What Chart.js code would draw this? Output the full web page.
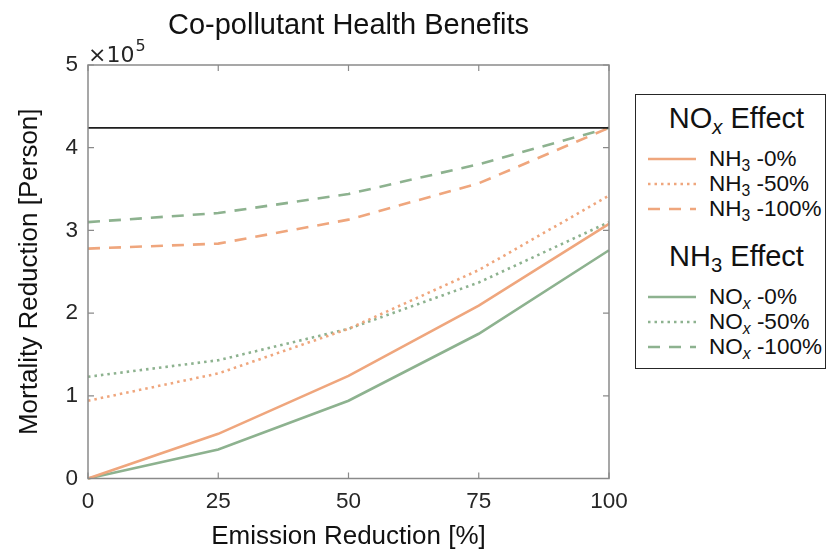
<!DOCTYPE html>
<html>
<head>
<meta charset="utf-8">
<script src="https://cdn.jsdelivr.net/npm/chart.js@4.4.1/dist/chart.umd.min.js"></script>
<style>
  body { margin: 0; background: #fff; }
  #wrap { position: relative; width: 826px; height: 551px; }
  #legend {
    position: absolute; left: 635px; top: 94px; width: 189px; height: 273px;
    border: 1px solid #262626; background: #fff;
    font-family: 'Liberation Sans', Arial, sans-serif; color: #111;
  }
  .hdr { position: absolute; left: 0; width: 100%; text-align: center; font-size: 29px; line-height: 32px; padding-left: 12px; box-sizing: border-box; }
  .row { position: absolute; left: 0; width: 100%; height: 24px; }
  .row svg { position: absolute; left: 12px; top: 0; }
  .row span { position: absolute; left: 73px; font-size: 22.5px; line-height: 24px; white-space: nowrap; }
  sub { font-size: 0.7em; vertical-align: -0.3em; line-height: 0; }
</style>
</head>
<body>
<div id="wrap">
  <canvas id="chart" width="826" height="551"></canvas>
  <div id="legend"></div>
</div>
<script>
// emission reduction steps [%]
const emission = [0, 25, 50, 75, 100];

// mortality reduction [person]
const nh3Zero    = [0, 54000, 124000, 209000, 308000];
const nh3Half    = [94000, 127000, 181000, 252000, 342000];
const nh3Full    = [278000, 284000, 313000, 357000, 424000];
const noxZero    = [0, 35000, 94000, 175000, 276000];
const noxHalf    = [123000, 143000, 181000, 237000, 310000];
const noxFull    = [310000, 321000, 344000, 380000, 424000];
const reference  = [424000, 424000];
const refX       = [0, 100];

const yTicks = [0, 100000, 200000, 300000, 400000, 500000];

const ORANGE = '#efa67d';
const GREEN = '#8db28f';
const FONT = "'Liberation Sans', Arial, sans-serif";

function pts(xs, ys) {
    return xs.map((x, i) => ({ x: x, y: ys[i] }));
}

const dashStyles = { solid: [], dotted: [2.5, 4], dashed: [12, 9] };

function series(label, ys, color, style) {
    return {
        label: label,
        data: pts(emission, ys),
        borderColor: color,
        borderWidth: 2.6,
        borderDash: dashStyles[style],
        pointRadius: 0,
        tension: 0,
        fill: false,
        clip: false
    };
}

// inward ticks + box frame, like the original axes
const frame = {
    id: 'frame',
    afterDatasetsDraw(chart) {
        const { ctx, chartArea: a, scales } = chart;
        ctx.save();
        ctx.strokeStyle = '#8a8a8a';
        ctx.lineWidth = 1.5;
        ctx.strokeRect(a.left, a.top, a.right - a.left, a.bottom - a.top);
        ctx.lineWidth = 1.2;
        ctx.beginPath();
        emission.forEach(v => {
            const px = scales.x.getPixelForValue(v);
            ctx.moveTo(px, a.bottom); ctx.lineTo(px, a.bottom - 6);
            ctx.moveTo(px, a.top); ctx.lineTo(px, a.top + 6);
        });
        yTicks.forEach(v => {
            const py = scales.y.getPixelForValue(v);
            ctx.moveTo(a.left, py); ctx.lineTo(a.left + 6, py);
            ctx.moveTo(a.right, py); ctx.lineTo(a.right - 6, py);
        });
        ctx.stroke();

        // exponent label
        ctx.fillStyle = '#262626';
        ctx.textBaseline = 'alphabetic';
        ctx.font = "22px 'DejaVu Sans', sans-serif";
        ctx.fillText('\u00d710', a.left, a.top - 3);
        const w = ctx.measureText('\u00d710').width;
        ctx.font = "16px 'DejaVu Sans', sans-serif";
        ctx.fillText('5', a.left + w + 1, a.top - 14);
        ctx.restore();
    }
};

new Chart(document.getElementById('chart').getContext('2d'), {
    type: 'line',
    data: {
        datasets: [
            {
                label: 'reference',
                data: pts(refX, reference),
                borderColor: '#1e1e1e',
                borderWidth: 1.8,
                pointRadius: 0,
                clip: false
            },
            series('NH3 -0%', nh3Zero, ORANGE, 'solid'),
            series('NH3 -50%', nh3Half, ORANGE, 'dotted'),
            series('NH3 -100%', nh3Full, ORANGE, 'dashed'),
            series('NOx -0%', noxZero, GREEN, 'solid'),
            series('NOx -50%', noxHalf, GREEN, 'dotted'),
            series('NOx -100%', noxFull, GREEN, 'dashed')
        ]
    },
    options: {
        responsive: false,
        animation: false,
        layout: { padding: { left: 0, right: 217, top: 0, bottom: 0 } },
        plugins: {
            legend: { display: false },
            tooltip: { enabled: false },
            title: {
                display: true,
                fullSize: false,
                text: 'Co-pollutant Health Benefits',
                color: '#111',
                font: { family: FONT, size: 29, weight: 'normal' },
                padding: { top: 8.4, bottom: 21.8 }
            }
        },
        scales: {
            x: {
                type: 'linear',
                min: 0,
                max: 100,
                afterBuildTicks: s => { s.ticks = emission.map(v => ({ value: v })); },
                afterFit: s => { s.height = 72.5; },
                grid: { display: false, drawTicks: false },
                border: { display: false },
                ticks: { padding: 10, color: '#262626', font: { family: FONT, size: 22.5 } },
                title: {
                    display: true,
                    text: 'Emission Reduction [%]',
                    color: '#111',
                    font: { family: FONT, size: 26, lineHeight: 1.1 },
                    padding: { top: 0, bottom: 0 }
                }
            },
            y: {
                min: 0,
                max: 500000,
                afterBuildTicks: s => { s.ticks = yTicks.map(v => ({ value: v })); },
                afterFit: s => { s.width = 88; },
                grid: { display: false, drawTicks: false },
                border: { display: false },
                ticks: {
                    padding: 10,
                    color: '#262626',
                    font: { family: FONT, size: 22.5 },
                    callback: v => String(v / 100000)
                },
                title: {
                    display: true,
                    text: 'Mortality Reduction [Person]',
                    color: '#111',
                    font: { family: FONT, size: 26 },
                    padding: { top: 14, bottom: 0 }
                }
            }
        }
    },
    plugins: [frame]
});

// legend (two groups with headers, subscripts as real text)
const legendGroups = [
    { title: 'NO<sub><i>x</i></sub> Effect', top: 118, color: ORANGE,
      items: [['NH<sub>3</sub> -0%', 'solid', 158.5], ['NH<sub>3</sub> -50%', 'dotted', 183.5], ['NH<sub>3</sub> -100%', 'dashed', 209]] },
    { title: 'NH<sub>3</sub> Effect', top: 256, color: GREEN,
      items: [['NO<sub><i>x</i></sub> -0%', 'solid', 297], ['NO<sub><i>x</i></sub> -50%', 'dotted', 322], ['NO<sub><i>x</i></sub> -100%', 'dashed', 347]] }
];

const legend = document.getElementById('legend');
const boxTop = 95;
legendGroups.forEach(g => {
    const h = document.createElement('div');
    h.className = 'hdr';
    h.style.top = (g.top - boxTop - 16) + 'px';
    h.innerHTML = g.title;
    legend.appendChild(h);
    g.items.forEach(([txt, style, cy]) => {
        const r = document.createElement('div');
        r.className = 'row';
        r.style.top = (cy - boxTop - 12) + 'px';
        const dash = dashStyles[style].join(' ');
        r.innerHTML = '<svg width="50" height="24"><line x1="0" y1="12" x2="48" y2="12" stroke="' + g.color +
            '" stroke-width="2.6"' + (dash ? ' stroke-dasharray="' + dash + '"' : '') + '/></svg><span>' + txt + '</span>';
        legend.appendChild(r);
    });
});
</script>
</body>
</html>
